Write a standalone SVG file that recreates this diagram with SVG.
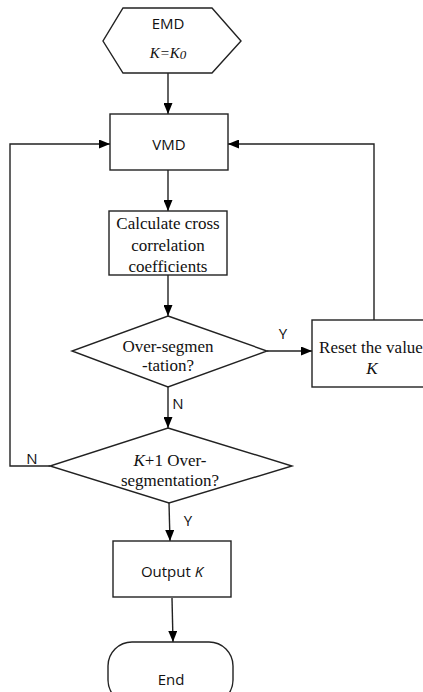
<svg xmlns="http://www.w3.org/2000/svg" width="423" height="692" viewBox="0 0 423 692">
<defs>
<marker id="arr" markerWidth="11" markerHeight="9" refX="11" refY="4.5" orient="auto" markerUnits="userSpaceOnUse">
<path d="M0,0 L11,4.5 L0,9 z" fill="#000"/>
</marker>
<style>
.shape{fill:#fff;stroke:#222;stroke-width:1.4}
.con{fill:none;stroke:#222;stroke-width:1.4}
.sans{font-family:"Open Sans","Liberation Sans",sans-serif;font-size:15px;fill:#111}
.serif{font-family:"Liberation Serif","Times New Roman",serif;font-size:17px;fill:#111}
.lbl{font-family:"Open Sans","Liberation Sans",sans-serif;font-size:15px;fill:#111}
</style>
</defs>
<rect width="423" height="692" fill="#fff"/>
<g id="connectors">
<line class="con" x1="168" y1="73" x2="168" y2="114" marker-end="url(#arr)"/>
<line class="con" x1="168" y1="170" x2="168" y2="211" marker-end="url(#arr)"/>
<line class="con" x1="168" y1="275" x2="168" y2="316" marker-end="url(#arr)"/>
<line class="con" x1="267" y1="351" x2="312" y2="351" marker-end="url(#arr)"/>
<polyline class="con" points="374,320 374,144 228,144" marker-end="url(#arr)"/>
<line class="con" x1="168" y1="387" x2="168" y2="428" marker-end="url(#arr)"/>
<polyline class="con" points="50,466 10,466 10,144 110,144" marker-end="url(#arr)"/>
<line class="con" x1="169" y1="503" x2="170" y2="541" marker-end="url(#arr)"/>
<line class="con" x1="172" y1="598" x2="173" y2="642" marker-end="url(#arr)"/>
<text class="lbl" x="283" y="339" text-anchor="middle">Y</text>
<text class="lbl" x="178" y="409" text-anchor="middle">N</text>
<text class="lbl" x="32" y="464" text-anchor="middle">N</text>
<text class="lbl" x="188" y="526" text-anchor="middle">Y</text>
</g>
<g id="emd">
<polygon class="shape" points="123,8 212,8 241,41 212,73 123,73 103,41"/>
<text class="sans" x="168" y="29" text-anchor="middle">EMD</text>
<text x="168" y="58" text-anchor="middle" font-family="Liberation Serif, serif" font-style="italic" font-size="15" fill="#111">K=K<tspan font-size="13" dy="1">0</tspan></text>
</g>
<g id="vmd">
<rect class="shape" x="110" y="114" width="118" height="56"/>
<text class="sans" x="169" y="150" text-anchor="middle">VMD</text>
</g>
<g id="calc">
<rect class="shape" x="109" y="211" width="118" height="64"/>
<text class="serif" x="168" y="229" text-anchor="middle">Calculate cross</text>
<text class="serif" x="168" y="251" text-anchor="middle">correlation</text>
<text class="serif" x="168" y="272" text-anchor="middle">coefficients</text>
</g>
<g id="oversegmentation">
<polygon class="shape" points="168,316 267,351 168,387 72,351"/>
<text class="serif" x="168" y="352" text-anchor="middle">Over-segmen</text>
<text class="serif" x="168" y="371" text-anchor="middle">-tation?</text>
</g>
<g id="reset">
<rect class="shape" x="312" y="320" width="122" height="67"/>
<text class="serif" x="371" y="353" text-anchor="middle">Reset the value</text>
<text class="serif" x="372" y="374" text-anchor="middle" font-style="italic">K</text>
</g>
<g id="k1">
<polygon class="shape" points="168,428 292,466 169,503 50,466"/>
<text class="serif" x="170" y="466" text-anchor="middle"><tspan font-style="italic">K</tspan>+1 Over-</text>
<text class="serif" x="170" y="486" text-anchor="middle">segmentation?</text>
</g>
<g id="output">
<rect class="shape" x="113" y="541" width="118" height="56"/>
<text class="sans" x="172" y="577" text-anchor="middle">Output <tspan font-style="italic">K</tspan></text>
</g>
<g id="end">
<rect class="shape" x="108" y="642" width="125" height="62" rx="24" ry="24"/>
<text class="sans" x="171" y="685" text-anchor="middle">End</text>
</g>
</svg>
